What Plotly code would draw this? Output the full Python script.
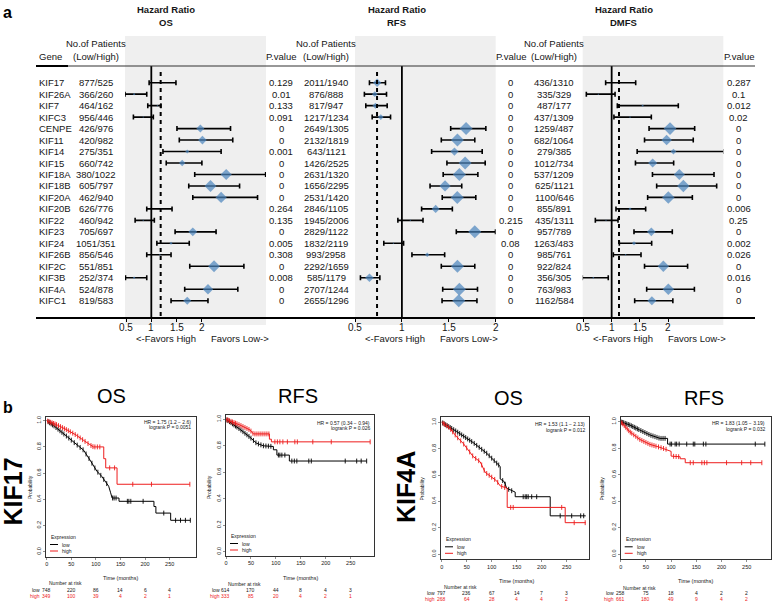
import numpy as np
import plotly.graph_objects as go

W, H = 782, 606
def X(px): return px / W
def Y(py): return 1 - py / H

# ---------------- data: forest plots (panel a) ----------------
genes = ["KIF17", "KIF26A", "KIF7", "KIFC3", "CENPE", "KIF11", "KIF14", "KIF15", "KIF18A", "KIF18B",
         "KIF20A", "KIF20B", "KIF22", "KIF23", "KIF24", "KIF26B", "KIF2C", "KIF3B", "KIF4A", "KIFC1"]

os_n = ["877/525", "366/260", "464/162", "956/446", "426/976", "420/982", "275/351", "660/742", "380/1022", "605/797",
        "462/940", "626/776", "460/942", "705/697", "1051/351", "856/546", "551/851", "252/374", "524/878", "819/583"]
os_p = ["0.129", "0.01", "0.133", "0.091", "0", "0", "0.001", "0", "0", "0",
        "0", "0.264", "0.135", "0", "0.005", "0.308", "0", "0.008", "0", "0"]
os_hr = [1.19, 0.66, 1.12, 0.84, 1.97, 2.01, 1.71, 1.61, 2.48, 2.17, 2.38, 1.19, 0.84, 1.82, 1.39, 1.17, 2.24, 0.66, 2.12, 1.71]
os_lo = [0.957, 0.48, 0.93, 0.646, 1.507, 1.553, 1.23, 1.295, 1.858, 1.74, 1.82, 0.91, 0.68, 1.47, 1.11, 0.91, 1.76, 0.49, 1.66, 1.39]
os_hi = [1.487, 0.91, 1.19, 1.04, 2.566, 2.61, 2.38, 2.0, 3.26, 2.745, 3.1, 1.41, 1.06, 2.28, 1.75, 1.39, 2.83, 0.91, 2.71, 2.12]
os_pooled = 1.185

rfs_n = ["2011/1940", "876/888", "817/947", "1217/1234", "2649/1305", "2132/1819", "643/1121", "1426/2525", "2631/1320", "1656/2295",
         "2531/1420", "2846/1105", "1945/2006", "2829/1122", "1832/2119", "993/2958", "2292/1659", "585/1179", "2707/1244", "2655/1296"]
rfs_p = ["0", "0", "0", "0", "0", "0", "0", "0", "0", "0",
         "0", "0", "0.215", "0", "0.08", "0", "0", "0", "0", "0"]
rfs_hr = [0.736, 0.711, 0.718, 0.775, 1.684, 1.592, 1.56, 1.674, 1.613, 1.46, 1.59, 1.36, 1.09, 1.777, 0.91, 1.27, 1.592, 0.654, 1.613, 1.606]
rfs_lo = [0.654, 0.60, 0.615, 0.683, 1.52, 1.42, 1.317, 1.48, 1.44, 1.30, 1.43, 1.21, 0.957, 1.58, 0.807, 1.107, 1.42, 0.558, 1.435, 1.428]
rfs_hi = [0.825, 0.836, 0.843, 0.879, 1.895, 1.777, 1.856, 1.888, 1.81, 1.638, 1.788, 1.538, 1.225, 1.998, 1.018, 1.456, 1.777, 0.765, 1.806, 1.80]
rfs_pooled = 0.735

dmfs_n = ["436/1310", "335/329", "487/177", "437/1309", "1259/487", "682/1064", "279/385", "1012/734", "537/1209", "625/1121",
          "1100/646", "855/891", "435/1311", "957/789", "1263/483", "985/761", "922/824", "356/305", "763/983", "1162/584"]
dmfs_p = ["0.287", "0.1", "0.012", "0.02", "0", "0", "0", "0", "0", "0",
          "0", "0.006", "0.25", "0", "0.002", "0.026", "0", "0.016", "0", "0"]
dmfs_hr = [1.124, 0.765, 1.547, 1.324, 2.03, 1.97, 2.09, 1.724, 2.194, 2.265, 2.0, 1.324, 0.9, 1.70, 1.394, 1.247, 1.912, 0.676, 2.0, 1.71]
dmfs_lo = [0.894, 0.553, 1.10, 1.04, 1.66, 1.58, 1.45, 1.42, 1.72, 1.794, 1.635, 1.076, 0.712, 1.394, 1.135, 1.03, 1.58, 0.482, 1.618, 1.406]
dmfs_hi = [1.424, 1.06, 2.176, 1.70, 2.465, 2.44, 2.98, 2.094, 2.806, 2.853, 2.424, 1.6, 1.112, 2.07, 1.706, 1.518, 2.34, 0.94, 2.46, 2.08]
dmfs_pooled = 1.13

hr_ticks = [0.5, 1, 1.5, 2]
hr_ticktext = ["0.5", "1", "1.5", "2"]

# ---------------- data: Kaplan-Meier curves (panel b) ----------------
km_ticks = [0, 50, 100, 150, 200, 250]
prob_ticks = [0, 0.2, 0.4, 0.6, 0.8, 1.0]

# KIF17 OS
km1_low_t = [0, 15, 41, 60, 75, 88, 102, 112, 119, 126, 130, 133, 147, 147, 218, 218, 222, 222, 252, 252, 292]
km1_low_s = [1.0, 0.96, 0.88, 0.82, 0.775, 0.70, 0.615, 0.575, 0.535, 0.50, 0.45, 0.41, 0.41, 0.385, 0.385, 0.345, 0.345, 0.295, 0.295, 0.24, 0.24]
km1_high_t = [0, 20, 41, 60, 75, 88, 95, 116, 116, 120, 120, 143, 143, 291]
km1_high_s = [1.0, 0.97, 0.93, 0.89, 0.85, 0.815, 0.80, 0.80, 0.71, 0.71, 0.64, 0.64, 0.515, 0.515]
km1_low_cens = [3, 6, 9, 12, 15, 19, 23, 27, 31, 35, 40, 45, 50, 56, 62, 68, 74, 80, 86, 92, 98, 104, 110, 116, 122,
                134, 137, 141, 164, 167, 171, 196, 238, 262, 272, 282, 292]
km1_high_cens = [2, 5, 8, 11, 14, 17, 20, 24, 28, 32, 36, 40, 44, 48, 53, 58, 63, 68, 73, 78, 84, 90, 94, 98, 103, 108,
                 128, 138, 175, 213, 291]
km1_risk_low = [748, 220, 86, 14, 6, 4]
km1_risk_high = [349, 100, 39, 4, 2, 1]
km1_hr = ["HR = 1.75 (1.2 − 2.6)", "logrank P = 0.0051"]

# KIF17 RFS
km2_low_t = [0, 10, 28, 48, 61, 75, 95, 95, 102, 102, 127, 127, 282]
km2_low_s = [1.0, 0.975, 0.925, 0.865, 0.82, 0.80, 0.795, 0.77, 0.77, 0.73, 0.73, 0.685, 0.685]
km2_high_t = [0, 10, 28, 48, 55, 87, 87, 91, 91, 289]
km2_high_s = [1.0, 0.985, 0.957, 0.92, 0.89, 0.89, 0.85, 0.85, 0.83, 0.83]
km2_low_cens = [2, 4, 7, 10, 13, 16, 19, 22, 26, 30, 34, 38, 42, 46, 50, 55, 60, 65, 70, 75, 80, 85, 90,
                105, 108, 112, 118, 132, 137, 142, 166, 171, 239, 262, 271, 282]
km2_high_cens = [2, 4, 7, 10, 13, 16, 19, 22, 26, 30, 34, 38, 42, 46, 50, 54, 58, 62, 66, 70, 74, 78, 82, 86,
                 98, 103, 108, 114, 123, 138, 143, 174, 211, 289]
km2_risk_low = [614, 170, 44, 8, 4, 3]
km2_risk_high = [333, 85, 20, 4, 2, 1]
km2_hr = ["HR = 0.57 (0.34 − 0.94)", "logrank P = 0.026"]

# KIF4A OS
km3_low_t = [0, 30, 63, 90, 110, 117, 117, 125, 130, 137, 147, 147, 217, 217, 288]
km3_low_s = [1.0, 0.93, 0.846, 0.765, 0.69, 0.665, 0.57, 0.55, 0.50, 0.485, 0.47, 0.435, 0.435, 0.29, 0.29]
km3_high_t = [0, 15, 30, 43, 63, 77, 87, 103, 110, 117, 130, 131, 131, 247, 247, 288]
km3_high_s = [1.0, 0.96, 0.89, 0.84, 0.74, 0.70, 0.62, 0.575, 0.555, 0.517, 0.50, 0.50, 0.354, 0.354, 0.238, 0.238]
km3_low_cens = [2, 5, 8, 11, 14, 17, 20, 24, 28, 32, 36, 40, 44, 48, 52, 56, 60, 65, 70, 75, 80, 85, 90, 95, 100,
                105, 110, 114, 122, 127, 134, 140, 163, 167, 170, 173, 180, 190, 237, 260, 278, 284]
km3_high_cens = [3, 6, 10, 14, 18, 22, 27, 32, 38, 44, 50, 56, 62, 68, 74, 80, 85, 90, 95, 100, 106, 112, 120, 126,
                 138, 143, 240, 265, 287]
km3_risk_low = [797, 236, 67, 14, 7, 3]
km3_risk_high = [268, 64, 28, 4, 4, 2]
km3_hr = ["HR = 1.53 (1.1 − 2.13)", "logrank P = 0.012"]

# KIF4A RFS
km4_low_t = [0, 18, 38, 58, 78, 93, 93, 286]
km4_low_s = [1.0, 0.975, 0.937, 0.90, 0.874, 0.874, 0.831, 0.831]
km4_high_t = [0, 18, 38, 58, 78, 95, 100, 100, 118, 118, 128, 128, 280]
km4_high_s = [1.0, 0.924, 0.866, 0.829, 0.806, 0.786, 0.776, 0.74, 0.735, 0.72, 0.72, 0.69, 0.69]
km4_low_cens = [2, 4, 6, 9, 12, 15, 18, 21, 24, 27, 30, 33, 36, 40, 44, 48, 52, 56, 60, 64, 68, 72, 76, 80, 84, 88,
                98, 101, 108, 111, 116, 131, 144, 147, 164, 169, 267, 286]
km4_high_cens = [2, 4, 7, 10, 13, 16, 19, 22, 26, 30, 34, 38, 42, 46, 50, 54, 58, 62, 66, 70, 75, 80, 85, 90,
                 105, 110, 115, 138, 144, 161, 166, 171, 210, 240, 258, 280]
km4_risk_low = [258, 75, 18, 4, 2, 2]
km4_risk_high = [661, 180, 49, 9, 4, 2]
km4_hr = ["HR = 1.83 (1.05 − 3.19)", "logrank P = 0.032"]

# ---------------- styling ----------------
FONT = "Liberation Sans, Arial, Helvetica, sans-serif"
BLUE = "#4a84bd"
GRAY = "#efefef"
RED = "#ee1c1c"
TXT = "#161616"

fig = go.Figure()
rows = list(range(len(genes)))

def diamond_size(hr, lo, hi):
    hr, lo, hi = (np.asarray(v, float) for v in (hr, lo, hi))
    se = (np.log(hi) - np.log(lo)) / 3.92
    z = np.abs(np.log(hr)) / se
    width = np.clip(2.3 * (z - 1.5), 1.5, 13.0)
    return width / 1.3

forest = [
    dict(hr=os_hr, lo=os_lo, hi=os_hi, pooled=os_pooled, xa="x", dom=(125, 266), rng=(0.48, 3.267)),
    dict(hr=rfs_hr, lo=rfs_lo, hi=rfs_hi, pooled=rfs_pooled, xa="x2", dom=(355, 495.7), rng=(0.5, 2.0)),
    dict(hr=dmfs_hr, lo=dmfs_lo, hi=dmfs_hi, pooled=dmfs_pooled, xa="x3", dom=(582.7, 723.3), rng=(0.489, 2.97)),
]

shapes = []
annotations = []

def ann(text, px, py, size=9.5, xanchor="center", bold=False, color=TXT, angle=0, yref="paper", yval=None):
    annotations.append(dict(
        text=f"<b>{text}</b>" if bold else text, x=X(px), xref="paper",
        y=Y(py) if yval is None else yval, yref=yref, xanchor=xanchor, yanchor="middle",
        showarrow=False, textangle=angle, font=dict(family=FONT, size=size, color=color)))

for p in forest:
    hr = np.asarray(p["hr"]); lo = np.asarray(p["lo"]); hi = np.asarray(p["hi"])
    fig.add_trace(go.Scatter(
        x=hr, y=rows, xaxis=p["xa"], yaxis="y", mode="markers",
        marker=dict(symbol="diamond", size=diamond_size(hr, lo, hi), color=BLUE, line=dict(width=0)),
        error_x=dict(type="data", symmetric=False, array=hi - hr, arrayminus=hr - lo,
                     color="black", thickness=1.6, width=2.5),
        cliponaxis=False, showlegend=False, hoverinfo="skip"))
    ax = p["xa"]
    shapes.append(dict(type="rect", xref=f"{ax} domain", yref="y domain", x0=0, x1=1, y0=0, y1=1,
                       fillcolor=GRAY, line=dict(width=0), layer="below"))
    shapes.append(dict(type="line", xref=ax, yref="y", x0=1, x1=1, y0=-1.456, y1=20.51,
                       line=dict(color="black", width=1.8)))
    shapes.append(dict(type="line", xref=ax, yref="y", x0=p["pooled"], x1=p["pooled"], y0=-0.93, y1=20.35,
                       line=dict(color="black", width=2, dash="4px,4px")))
    # tick labels placed through the axis scale
    for tv, tt in zip(hr_ticks, hr_ticktext):
        annotations.append(dict(text=tt, x=tv, xref=ax, y=Y(327), yref="paper", showarrow=False,
                                xanchor="center", yanchor="middle",
                                font=dict(family=FONT, size=10, color=TXT)))

# header & axis lines
shapes.append(dict(type="line", xref="paper", yref="paper", x0=X(36), x1=X(755), y0=Y(66), y1=Y(66),
                   line=dict(color="#333", width=1.2)))
shapes.append(dict(type="line", xref="paper", yref="paper", x0=X(36), x1=X(68), y0=Y(66), y1=Y(66),
                   line=dict(color="black", width=2)))
shapes.append(dict(type="line", xref="paper", yref="paper", x0=X(36), x1=X(755), y0=Y(318), y1=Y(318),
                   line=dict(color="black", width=2)))

# panel titles and column headers
for cx, name in [(165.7, "OS"), (396.6, "RFS"), (623.5, "DMFS")]:
    ann("Hazard Ratio", cx, 9.5, bold=True)
    ann(name, cx, 22.5, bold=True)
ann("Gene", 36.7, 57, xanchor="left")
for cx in (96.3, 326.3, 554):
    ann("No.of Patients", cx, 43)
    ann("(Low/High)", cx, 57)
for cx in (281, 511, 738.5):
    ann("P.value", cx, 56.5)

# row texts
cols = [(genes, 36.7, "left"), (os_n, 96.3, "center"), (os_p, 281, "center"),
        (rfs_n, 326.3, "center"), (rfs_p, 510.5, "center"), (dmfs_n, 554, "center"), (dmfs_p, 738.7, "center")]
for values, cx, anchor in cols:
    for i, v in enumerate(values):
        ann(v, cx, 0, xanchor=anchor, yref="y", yval=i)

# favors labels
for hx, lx in [(165.5, 240), (395.2, 469), (623, 696.7)]:
    ann("<-Favors High", hx, 338)
    ann("Favors Low->", lx, 338)

ann("a", 7, 12, size=16, bold=True, color="black")
ann("b", 8, 407, size=16, bold=True, color="black")

# ---------------- Kaplan-Meier panels ----------------
km = [
    dict(low=(km1_low_t, km1_low_s), high=(km1_high_t, km1_high_s), lc=km1_low_cens, hc=km1_high_cens,
         rl=km1_risk_low, rh=km1_risk_high, hr=km1_hr, xa="x4", ya="y2",
         fx=(46, 196), fy=(416.5, 557), xr=(-1.4, 303.5), yr=(-0.040, 1.032),
         title=("OS", 111, 396), hrpos=(193.3, 421.7), prob=(29.3, 486.7), time=(120.7, 578.3),
         risk_y=(583.3, 590, 596.3)),
    dict(low=(km2_low_t, km2_low_s), high=(km2_high_t, km2_high_s), lc=km2_low_cens, hc=km2_high_cens,
         rl=km2_risk_low, rh=km2_risk_high, hr=km2_hr, xa="x5", ya="y3",
         fx=(226, 374.3), fy=(415, 556), xr=(0, 297.3), yr=(-0.033, 1.033),
         title=("RFS", 298, 396), hrpos=(371.7, 422.7), prob=(208.3, 486.7), time=(300, 578.3),
         risk_y=(584, 590, 596)),
    dict(low=(km3_low_t, km3_low_s), high=(km3_high_t, km3_high_s), lc=km3_low_cens, hc=km3_high_cens,
         rl=km3_risk_low, rh=km3_risk_high, hr=km3_hr, xa="x6", ya="y4",
         fx=(441, 589), fy=(417.3, 559.3), xr=(-1.4, 294.6), yr=(-0.040, 1.038),
         title=("OS", 508, 398), hrpos=(587.3, 424), prob=(422.3, 488.3), time=(516, 580.7),
         risk_y=(587.3, 592.7, 599)),
    dict(low=(km4_low_t, km4_low_s), high=(km4_high_t, km4_high_s), lc=km4_low_cens, hc=km4_high_cens,
         rl=km4_risk_low, rh=km4_risk_high, hr=km4_hr, xa="x7", ya="y5",
         fx=(620.7, 770.7), fy=(416.7, 559.3), xr=(0, 297.6), yr=(-0.040, 1.038),
         title=("RFS", 703.5, 398), hrpos=(767.3, 423.3), prob=(602.3, 488.3), time=(695, 581),
         risk_y=(588.3, 593.3, 599)),
]

layout_axes = {}
KMF = 5.5
for k in km:
    for (t, s), cens, col in [(k["low"], k["lc"], "black"), (k["high"], k["hc"], RED)]:
        fig.add_trace(go.Scatter(x=t, y=s, xaxis=k["xa"], yaxis=k["ya"], mode="lines",
                                 line=dict(color=col, width=1), showlegend=False, hoverinfo="skip"))
        cy = np.interp(cens, t, s)
        fig.add_trace(go.Scatter(x=cens, y=cy, xaxis=k["xa"], yaxis=k["ya"], mode="markers",
                                 marker=dict(symbol="line-ns", size=3.5, line=dict(color=col, width=0.9)),
                                 showlegend=False, hoverinfo="skip"))
    xk = "xaxis" + k["xa"][1:]
    yk = "yaxis" + k["ya"][1:]
    layout_axes[xk] = dict(domain=[X(k["fx"][0]), X(k["fx"][1])], range=list(k["xr"]), anchor=k["ya"],
                           tickmode="array", tickvals=km_ticks, ticks="outside", ticklen=2, tickwidth=0.6,
                           showline=True, mirror=True, linecolor="black", linewidth=0.8, automargin=False,
                           showgrid=False, zeroline=False, tickfont=dict(family=FONT, size=KMF, color=TXT))
    layout_axes[yk] = dict(domain=[Y(k["fy"][1]), Y(k["fy"][0])], range=list(k["yr"]), anchor=k["xa"],
                           tickmode="array", tickvals=prob_ticks, ticktext=[f"{v:.1f}" for v in prob_ticks],
                           tickangle=-90, ticks="outside", ticklen=2, tickwidth=0.6, automargin=False,
                           showline=True, mirror=True, linecolor="black", linewidth=0.8,
                           showgrid=False, zeroline=False, tickfont=dict(family=FONT, size=KMF, color=TXT))
    name, tx, ty = k["title"]
    ann(name, tx, ty, size=20, color="black")
    hx, hy = k["hrpos"]
    ann(k["hr"][0], hx, hy, size=5, xanchor="right")
    ann(k["hr"][1], hx, hy + 5.6, size=5, xanchor="right")
    ann("Probability", k["prob"][0], k["prob"][1], size=5, angle=-90)
    ann("Time (months)", k["time"][0], k["time"][1], size=5.5)
    # legend
    fl, fb = k["fx"][0], k["fy"][1]
    ann("Expression", fl + 3, fb - 20, size=5, xanchor="left")
    for dy, lab, col in [(-12.5, "low", "black"), (-6, "high", RED)]:
        shapes.append(dict(type="line", xref="paper", yref="paper", x0=X(fl + 4), x1=X(fl + 12),
                           y0=Y(fb + dy), y1=Y(fb + dy), line=dict(color=col, width=1)))
        ann(lab, fl + 14, fb + dy, size=5, xanchor="left")
    # number at risk table
    x0px = fl + (0 - k["xr"][0]) / (k["xr"][1] - k["xr"][0]) * (k["fx"][1] - k["fx"][0])
    ry_head, ry_low, ry_high = k["risk_y"]
    ann("Number at risk", x0px, ry_head, size=5, xanchor="left")
    ann("low", x0px - 4.5, ry_low, size=5, xanchor="right")
    ann("high", x0px - 4.5, ry_high, size=5, xanchor="right", color=RED)
    for tv, vl, vh in zip(km_ticks, k["rl"], k["rh"]):
        annotations.append(dict(text=str(vl), x=tv, xref=k["xa"], y=Y(ry_low), yref="paper",
                                showarrow=False, xanchor="center", yanchor="middle",
                                font=dict(family=FONT, size=5, color=TXT)))
        annotations.append(dict(text=str(vh), x=tv, xref=k["xa"], y=Y(ry_high), yref="paper",
                                showarrow=False, xanchor="center", yanchor="middle",
                                font=dict(family=FONT, size=5, color=RED)))

# big gene labels
ann("KIF17", 12, 491.5, size=25, bold=True, color="black", angle=-90)
ann("KIF4A", 406, 487, size=25, bold=True, color="black", angle=-90)

def forest_x(p):
    return dict(domain=[X(p["dom"][0]), X(p["dom"][1])], range=list(p["rng"]), anchor="free", position=Y(318),
                tickmode="array", tickvals=hr_ticks, ticks="outside", ticklen=3, automargin=False,
                tickwidth=1, tickcolor="black", showline=False, showgrid=False, zeroline=False,
                showticklabels=False)

fig.update_layout(
    template="none",
    width=W, height=H, margin=dict(l=0, r=0, t=0, b=0, pad=0), autosize=False,
    paper_bgcolor="white", plot_bgcolor="rgba(0,0,0,0)", showlegend=False,
    font=dict(family=FONT, color=TXT),
    xaxis=forest_x(forest[0]), xaxis2=forest_x(forest[1]), xaxis3=forest_x(forest[2]),
    yaxis=dict(domain=[Y(325), Y(36)], range=[21.12, -4.07], visible=False, anchor="x", fixedrange=True),
    shapes=shapes, annotations=annotations, **layout_axes)

fig.write_html("out.html", config={"displayModeBar": False, "staticPlot": True},
               post_script="document.body.style.margin='0px';document.body.style.overflow='hidden';")
